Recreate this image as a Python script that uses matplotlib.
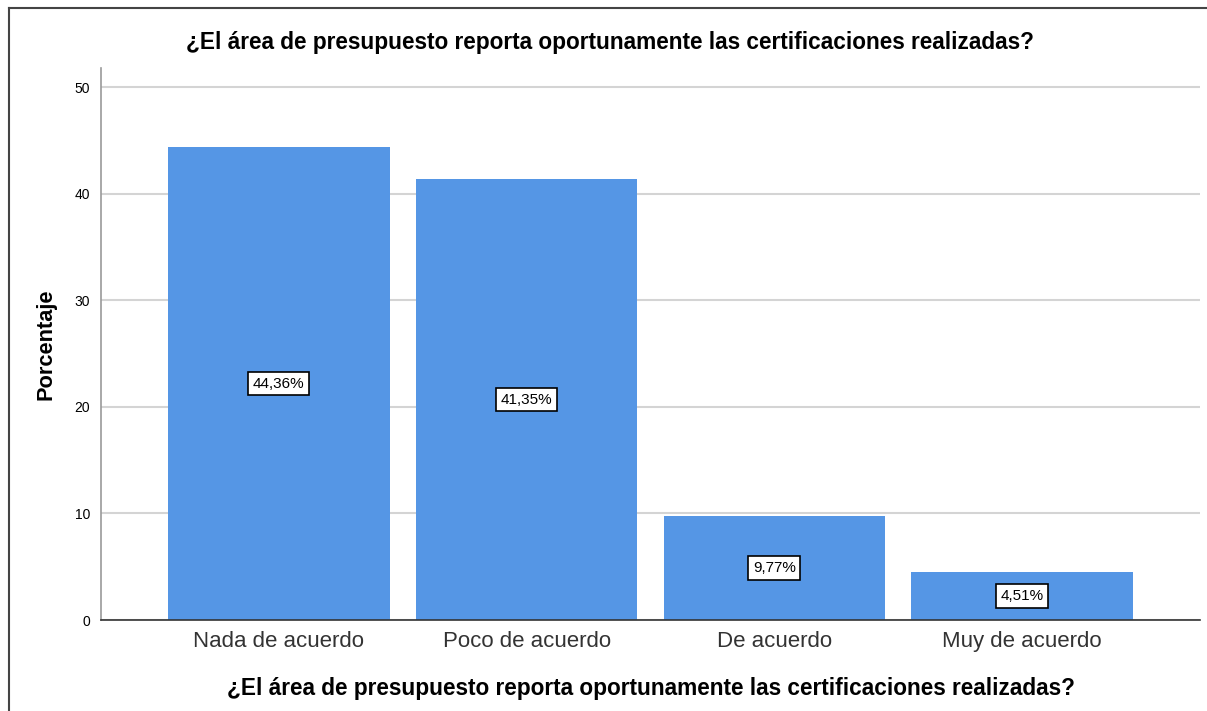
import matplotlib
matplotlib.use("Agg")
import matplotlib.pyplot as plt
from matplotlib.lines import Line2D

plt.rcParams['font.family'] = ['Liberation Sans', 'DejaVu Sans']

# Data
categories = ['Nada de acuerdo', 'Poco de acuerdo', 'De acuerdo', 'Muy de acuerdo']
percentages = [44.36, 41.35, 9.77, 4.51]
labels = ['44,36%', '41,35%', '9,77%', '4,51%']
title = '¿El área de presupuesto reporta oportunamente las certificaciones realizadas?'

fig = plt.figure(figsize=(12.07, 7.11), dpi=100, facecolor='white')
ax = fig.add_axes((101 / 1207, 1 - 620 / 711, 1099 / 1207, 552 / 711))

x = range(len(categories))
ax.bar(x, percentages, width=0.895, color='#5596e5', zorder=2)

for xi, v, lab in zip(x, percentages, labels):
    ax.text(xi, v / 2, lab, ha='center', va='center', fontsize=11, zorder=3,
            bbox=dict(boxstyle='square,pad=0.3', fc='white', ec='black', lw=1.2))

ax.set_xlim(-0.718, 3.718)
ax.set_ylim(0, 51.8)
ax.set_yticks([0, 10, 20, 30, 40, 50])
ax.yaxis.grid(True, color='#d4d4d4', lw=1.5, zorder=0)
ax.set_xticks(list(x))
ax.set_xticklabels(categories, fontsize=16, color='#333333')
ax.tick_params(axis='x', length=0, pad=8)
ax.tick_params(axis='y', length=0, pad=8, labelsize=10)

for s in ['top', 'right']:
    ax.spines[s].set_visible(False)
ax.spines['left'].set_color('#9a9a9a')
ax.spines['left'].set_linewidth(1.2)
ax.spines['bottom'].set_color('#333333')
ax.spines['bottom'].set_linewidth(1.2)

ax.set_ylabel('Porcentaje', fontsize=15.7, fontweight='bold', labelpad=13)
ax.set_xlabel(title, fontsize=16.3, fontweight='bold', labelpad=18)
fig.text(610 / 1207, 1 - 43 / 711, title, ha='center', va='center',
         fontsize=16.3, fontweight='bold')

# outer frame
fig.add_artist(Line2D([9 / 1207, 1], [1 - 8 / 711, 1 - 8 / 711], color='#444444', lw=1.5))
fig.add_artist(Line2D([9 / 1207, 9 / 1207], [0, 1 - 8 / 711], color='#444444', lw=1.5))

fig.savefig('out.png', dpi=100)
